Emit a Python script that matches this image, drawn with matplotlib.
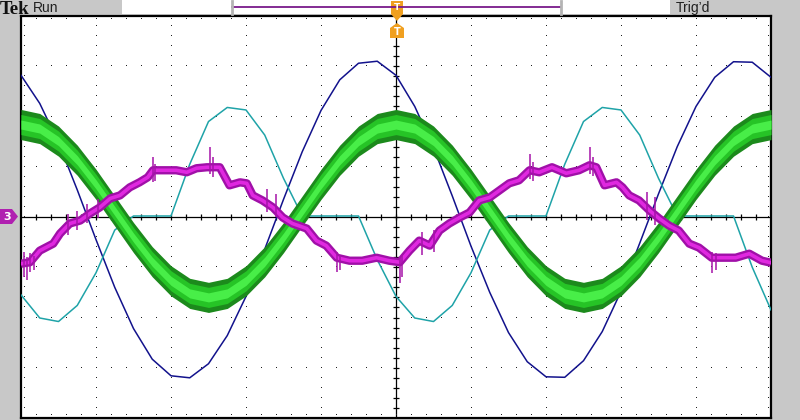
import numpy as np
import matplotlib.pyplot as plt
from matplotlib.patches import Polygon, Rectangle

# sample grid (divisions), every 0.25 div
t = np.arange(41) * 0.25

ch_blue = [2.82, 2.26, 1.48, 0.54, -0.45, -1.40, -2.22, -2.83, -3.16, -3.20,
           -2.92, -2.36, -1.58, -0.64, 0.35, 1.30, 2.12, 2.73, 3.06, 3.10,
           2.82, 2.20, 1.38, 0.42, -0.58, -1.50, -2.30, -2.88, -3.18, -3.19,
           -2.86, -2.28, -1.48, -0.52, 0.46, 1.40, 2.20, 2.78, 3.09, 3.08, 2.78]

ch_green = [1.84, 1.76, 1.51, 1.13, 0.65, 0.12, -0.41, -0.89, -1.27, -1.52,
            -1.60, -1.52, -1.27, -0.89, -0.41, 0.12, 0.65, 1.13, 1.51, 1.76,
            1.84, 1.76, 1.51, 1.13, 0.65, 0.12, -0.41, -0.89, -1.27, -1.52,
            -1.60, -1.52, -1.27, -0.89, -0.41, 0.12, 0.65, 1.13, 1.51, 1.76, 1.84]
green_noise = 0.30

ch_cyan = [-1.55, -2.01, -2.08, -1.76, -1.11, -0.26, 0.02, 0.02, 0.02, 1.05,
           1.90, 2.18, 2.13, 1.63, 0.77, 0.02, 0.02, 0.02, 0.02, -0.85,
           -1.58, -2.01, -2.08, -1.76, -1.11, -0.26, 0.02, 0.02, 0.02, 1.05,
           1.90, 2.18, 2.13, 1.63, 0.77, 0.02, 0.02, 0.02, 0.02, -1.00, -1.85]

mag_t = [0.0, 0.12, 0.25, 0.43, 0.52, 0.65, 0.79, 0.92, 1.05, 1.19, 1.32, 1.45,
         1.58, 1.69, 1.76, 1.89, 2.07, 2.21, 2.34, 2.48, 2.52, 2.65, 2.78, 2.92,
         3.01, 3.09, 3.22, 3.36, 3.49, 3.62, 3.81, 3.94, 4.07, 4.21, 4.38, 4.55,
         4.74, 4.91, 5.05, 5.18, 5.31, 5.45, 5.58, 5.71, 5.85, 5.98, 6.11, 6.25,
         6.38, 6.51, 6.64, 6.78, 6.91, 7.08, 7.27, 7.44, 7.58, 7.67, 7.78, 7.94,
         8.02, 8.11, 8.24, 8.38, 8.51, 8.64, 8.77, 8.91, 9.04, 9.21, 9.35, 9.53,
         9.71, 9.88, 10.0]
mag_v = [-0.93, -0.90, -0.67, -0.53, -0.33, -0.13, -0.07, 0.07, 0.19, 0.37, 0.43, 0.59,
         0.69, 0.79, 0.93, 0.93, 0.93, 0.89, 0.97, 0.99, 0.99, 0.99, 0.63, 0.69,
         0.67, 0.43, 0.33, 0.19, -0.01, -0.13, -0.23, -0.47, -0.57, -0.81, -0.87, -0.87,
         -0.81, -0.87, -0.90, -0.67, -0.47, -0.57, -0.27, -0.13, -0.01, 0.09, 0.33, 0.39,
         0.53, 0.67, 0.73, 0.93, 0.89, 0.99, 0.87, 0.93, 1.03, 0.99, 0.63, 0.69,
         0.59, 0.43, 0.33, 0.13, -0.03, -0.17, -0.27, -0.53, -0.61, -0.81, -0.81, -0.81,
         -0.73, -0.87, -0.91]
# noise bursts on the magenta trace
spike_x = [0.04, 0.08, 0.12, 0.17, 0.62, 0.75, 0.88, 1.02, 1.76, 1.79, 2.52, 2.56,
           3.28, 3.40, 4.21, 4.25, 5.05, 5.08, 5.35, 5.50, 6.78, 6.82, 7.58, 7.62,
           8.35, 8.45, 9.21, 9.26]
spike_lo = [-1.20, -1.26, -1.10, -1.05, -0.35, -0.25, -0.12, -0.02, 0.70, 0.72, 0.85, 0.80,
            0.10, 0.00, -1.10, -1.05, -1.32, -1.20, -0.75, -0.70, 0.75, 0.72, 0.85, 0.82,
            -0.05, -0.15, -1.12, -1.05]
spike_hi = [-0.70, -0.80, -0.72, -0.78, 0.05, 0.12, 0.25, 0.35, 1.19, 1.05, 1.39, 1.20,
            0.55, 0.45, -0.70, -0.75, -0.80, -0.75, -0.30, -0.25, 1.26, 1.10, 1.39, 1.20,
            0.50, 0.40, -0.70, -0.72]

BG = "#c8c8c8"
fig = plt.figure(figsize=(8, 4.2), dpi=100)
fig.patch.set_facecolor(BG)

# scope screen: 10 x 8 divisions
ax = fig.add_axes([21 / 800, 2 / 420, 750 / 800, 402 / 420])
ax.set_xlim(0, 10)
ax.set_ylim(-4, 4)
ax.set_xticks([])
ax.set_yticks([])
for s in ax.spines.values():
    s.set_color("black")
    s.set_linewidth(1.6)

# graticule
minor = np.arange(1, 50) * 0.2
minor_y = np.arange(1, 40) * 0.2 - 4
for gx in [1, 2, 3, 4, 6, 7, 8, 9]:
    ax.plot(np.full_like(minor_y, gx), minor_y, ",", color="#202020")
for gy in [-3, -2, -1, 1, 2, 3]:
    ax.plot(minor, np.full_like(minor, gy), ",", color="#202020")
ax.axhline(0, color="black", lw=0.9)
ax.axvline(5, color="black", lw=0.9)
ax.vlines(minor, -0.05, 0.05, color="black", lw=0.9)
ax.hlines(minor_y, 4.96, 5.04, color="black", lw=0.9)
ax.plot(minor, np.full_like(minor, -3.94), ",", color="#202020")
ax.plot(minor, np.full_like(minor, 3.94), ",", color="#202020")
ax.plot(np.full_like(minor_y, 0.04), minor_y, ",", color="#202020")
ax.plot(np.full_like(minor_y, 9.96), minor_y, ",", color="#202020")

# traces
ax.plot(t, ch_blue, color="#12128c", lw=1.1, zorder=3)
ax.plot(t, ch_cyan, color="#1fa3a8", lw=1.1, zorder=3)
g = np.array(ch_green)
ax.fill_between(t, g - green_noise, g + green_noise, color="#1c8a1c", lw=0, zorder=4)
ax.fill_between(t, g - 0.2, g + 0.2, color="#26c426", lw=0, zorder=4)
ax.fill_between(t, g - 0.09, g + 0.09, color="#48ee48", lw=0, zorder=4)
ax.plot(mag_t, mag_v, color="#a010a8", lw=6, solid_capstyle="butt", zorder=5)
ax.plot(mag_t, mag_v, color="#e028e0", lw=2.6, zorder=5)
ax.vlines(spike_x, spike_lo, spike_hi, color="#a514a8", lw=1.1, zorder=5)

# screen chrome in pixel coordinates
ov = fig.add_axes([0, 0, 1, 1])
ov.set_xlim(0, 800)
ov.set_ylim(420, 0)
ov.axis("off")
ov.patch.set_alpha(0)

ov.add_patch(Rectangle((122, 0), 548, 14, facecolor="white", edgecolor="none"))
ov.plot([232, 561], [7, 7], color="#7a1a8a", lw=1.3)
ov.plot([232, 232], [1, 14], color="#b4b4b4", lw=2)
ov.plot([561, 561], [1, 14], color="#b4b4b4", lw=2)
ov.text(0, 14.5, "Tek", fontsize=13.5, fontweight="bold", family="Liberation Serif",
        va="baseline", ha="left", color="#101010")
ov.text(33, 8, "Run", fontsize=10, family="Liberation Sans", va="center",
        ha="left", color="#202020")
ov.text(676, 8, "Trig\u2019d", fontsize=10, family="Liberation Sans",
        va="center", ha="left", color="#202020")

orange = "#f0a020"
ov.add_patch(Polygon([(391, 1), (403, 1), (403, 14), (397, 21), (391, 14)],
                     closed=True, facecolor=orange, edgecolor="none"))
ov.text(397, 8, "T", fontsize=6.5, fontweight="bold", color="white",
        ha="center", va="center")
ov.add_patch(Polygon([(397, 23), (404, 28), (404, 38), (390, 38), (390, 28)],
                     closed=True, facecolor=orange, edgecolor="none"))
ov.text(397, 32, "T", fontsize=7, fontweight="bold", color="white",
        ha="center", va="center")

ov.add_patch(Polygon([(0, 209), (12, 209), (18, 216.5), (12, 224), (0, 224)],
                     closed=True, facecolor="#b020b0", edgecolor="none"))
ov.text(7, 217, "3", fontsize=8, fontweight="bold", color="white",
        ha="center", va="center")

fig.savefig("out.png", dpi=100, facecolor=BG)
